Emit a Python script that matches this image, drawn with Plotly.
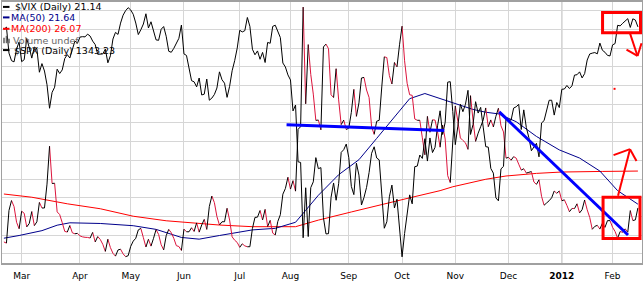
import pandas as pd
import plotly.graph_objects as go

# ---------------- data ----------------
holidays = ["2011-02-21", "2011-04-22", "2011-05-30", "2011-07-04", "2011-09-05",
            "2011-11-24", "2011-12-26", "2012-01-02", "2012-01-16"]
dates = pd.bdate_range("2011-02-17", "2012-02-15", freq="C", holidays=holidays)

vix_close = [
    16.59, 16.43, 20.80, 22.13, 21.32, 19.22, 18.35,
    20.70, 20.42, 18.60, 19.06, 20.66, 18.77, 19.28, 21.88, 21.13, 21.13, 24.32, 29.40,
    24.41, 24.44, 20.61, 20.25, 19.17, 18.00, 17.91, 18.79, 17.81, 17.68, 17.74,
    17.40, 17.27, 17.21, 17.19, 17.11, 17.87, 16.59, 17.31, 16.92, 16.27, 15.32, 16.96,
    15.83, 15.07, 14.69, 15.52, 15.62, 15.00, 14.62, 14.75,
    15.99, 16.70, 17.08, 18.20, 18.40, 17.16, 15.91, 16.95, 16.03, 17.07, 18.24, 17.60,
    16.23, 15.52, 17.43, 18.27, 17.82, 17.07, 16.09, 15.98, 15.45,
    18.30, 17.95, 17.95, 18.49, 17.99, 19.14, 17.90, 18.86, 19.61, 18.26, 21.32, 22.73,
    21.85, 19.99, 18.86, 19.29, 19.29, 21.10, 19.52, 17.27, 16.82, 16.52,
    15.87, 16.34, 16.06, 15.95, 15.95, 18.39, 19.87, 19.91, 20.80, 19.53, 20.95, 18.65,
    19.48, 17.77, 17.52, 19.32, 20.23, 22.98, 23.74, 25.25,
    23.66, 24.79, 23.38, 31.66, 32.00, 48.00, 35.06, 42.99, 39.00, 36.36, 32.85, 32.89,
    31.58, 42.67, 43.05, 42.44, 36.27, 35.90, 39.76, 35.59, 32.28, 32.89, 31.62,
    31.82, 33.92, 37.00, 33.38, 35.19, 38.52, 38.59, 36.91, 35.91, 31.97, 30.98, 32.73,
    32.86, 37.32, 41.35, 41.25, 38.84, 37.71, 40.60, 40.00, 42.96,
    45.45, 40.82, 37.81, 36.27, 36.20, 33.04, 32.86, 32.86, 30.51, 28.24, 33.39, 31.26,
    32.92, 32.89, 31.32, 29.26, 32.22, 30.35, 25.46, 24.53, 29.96,
    34.77, 32.74, 30.50, 30.16, 29.85, 28.97, 36.16, 32.81, 30.04, 31.13, 32.00, 32.91,
    34.51, 32.00, 32.91, 31.97, 33.39, 34.47, 32.13, 31.30, 27.80,
    27.90, 27.52, 28.00, 27.80, 26.99, 26.20, 26.38, 25.80, 25.90, 26.00, 24.60, 24.29,
    24.90, 22.70, 21.50, 21.80, 22.10, 22.50, 23.40, 23.10, 23.40,
    22.10, 22.22, 21.48, 20.63, 21.07, 21.05, 21.69, 20.47, 20.91, 22.20, 20.89, 19.87,
    18.28, 18.67, 18.81, 18.31, 19.10, 18.53, 19.44, 19.44,
    18.55, 17.98, 17.10, 17.98, 17.88, 18.34, 17.89, 20.79, 19.45, 19.54, 21.14,
]

spx_close = [
    1340.43, 1343.01, 1315.44, 1307.40, 1306.10, 1319.88, 1327.22,
    1306.33, 1308.44, 1330.97, 1321.15, 1310.13, 1321.82, 1320.02, 1295.11, 1304.28, 1296.39,
    1281.87, 1256.88, 1273.72, 1279.20, 1298.38, 1293.77, 1297.54, 1309.66, 1313.80, 1310.19,
    1319.44, 1328.26, 1325.83,
    1332.41, 1332.87, 1332.63, 1335.54, 1333.51, 1328.17, 1324.46, 1314.16, 1314.41, 1314.52,
    1319.68, 1305.14, 1312.62, 1330.36, 1337.38, 1335.25, 1347.24, 1355.66, 1360.48, 1363.61,
    1361.22, 1356.62, 1347.32, 1335.10, 1340.20, 1346.29, 1357.16, 1342.08, 1348.65, 1337.77,
    1329.47, 1328.98, 1340.68, 1343.60, 1333.27, 1317.37, 1316.28, 1320.47, 1325.69, 1331.10,
    1345.20,
    1314.55, 1312.94, 1300.16, 1286.17, 1284.94, 1279.56, 1289.00, 1270.98, 1271.83, 1287.87,
    1265.42, 1267.64, 1271.50, 1278.36, 1295.52, 1287.14, 1283.50, 1268.45, 1280.10, 1296.67,
    1307.41, 1320.64,
    1339.67, 1337.88, 1339.22, 1353.22, 1343.80, 1319.49, 1313.64, 1317.72, 1308.87, 1316.14,
    1305.44, 1326.73, 1325.84, 1343.80, 1345.02, 1337.43, 1331.94, 1304.89, 1300.67, 1292.28,
    1286.94, 1254.05, 1260.34, 1200.07, 1199.38, 1119.46, 1172.53, 1120.76, 1172.64, 1178.81,
    1204.49, 1192.76, 1193.89, 1140.65, 1123.53, 1123.82, 1162.35, 1177.60, 1159.27, 1176.80,
    1210.08, 1212.92, 1218.89,
    1204.42, 1173.97, 1165.24, 1198.62, 1185.90, 1154.23, 1162.27, 1172.87, 1188.68, 1209.11,
    1216.01, 1204.09, 1202.09, 1166.76, 1129.56, 1136.43, 1162.95, 1175.38, 1151.06, 1160.40,
    1131.42,
    1099.23, 1123.95, 1144.03, 1164.97, 1155.46, 1194.89, 1195.54, 1207.25, 1203.66, 1224.58,
    1200.86, 1225.38, 1209.88, 1215.39, 1238.25, 1254.19, 1229.05, 1242.00, 1284.59, 1285.09,
    1253.30,
    1218.28, 1237.90, 1261.15, 1253.23, 1261.12, 1275.92, 1229.10, 1239.70, 1263.85, 1251.78,
    1257.81, 1236.91, 1216.13, 1215.65, 1192.98, 1188.04, 1161.79, 1158.67, 1192.55, 1195.19,
    1246.96,
    1244.58, 1244.28, 1257.08, 1258.47, 1261.01, 1234.35, 1255.19, 1236.47, 1225.73, 1211.82,
    1215.75, 1219.66, 1205.35, 1241.30, 1243.72, 1254.00, 1265.33, 1265.43, 1249.64, 1263.02,
    1257.60,
    1277.06, 1277.30, 1281.06, 1277.81, 1280.70, 1292.08, 1292.48, 1295.50, 1289.09, 1293.67,
    1308.04, 1314.50, 1315.38, 1316.00, 1314.65, 1326.06, 1318.43, 1316.33, 1313.01, 1312.41,
    1324.09, 1325.54, 1344.90, 1344.33, 1347.05, 1349.96, 1351.95, 1342.64, 1351.77, 1350.50,
    1343.23,
]

# moving averages (trading-day index, value)
ma50_idx = [0, 6, 15, 21, 26, 38, 51, 60, 70, 77, 85, 98, 107, 115, 119, 124, 132, 140, 147,
            153, 160, 166, 172, 178, 185, 190, 195, 202, 210, 219, 227, 235, 242, 250]
ma50_val = [17.09, 17.45, 18.10, 18.83, 19.15, 19.06, 18.76, 18.27, 17.19, 16.96, 17.45, 18.20,
            18.41, 19.22, 20.82, 22.83, 25.58, 27.59, 30.44, 32.93, 35.75, 36.44, 35.75, 35.03,
            34.31, 33.94, 33.72, 32.67, 30.70, 28.90, 27.81, 26.07, 23.45, 21.64]
ma200_idx = [0, 11, 25, 38, 51, 64, 85, 98, 115, 124, 137, 151, 161, 172, 177, 190, 198, 210,
             220, 236, 250]
ma200_val = [23.00, 22.57, 21.69, 21.03, 20.03, 19.42, 18.85, 18.63, 18.63, 19.51, 20.60, 21.69,
             22.57, 23.45, 23.97, 24.97, 25.41, 25.76, 25.94, 26.02, 26.07]

month_labels = ["Mar", "Apr", "May", "Jun", "Jul", "Aug", "Sep", "Oct", "Nov", "Dec",
                "<b>2012</b>", "Feb"]

legend_items = [
    ("$VIX (Daily) 21.14", "#000000"),
    ("MA(50) 21.64", "#00008b"),
    ("MA(200) 26.07", "#ff0000"),
    ("Volume undef", "#666666"),
    ("$SPX (Daily) 1343.23", "#000000"),
]

# ---------------- layout geometry ----------------
FIG_W, FIG_H = 643, 281
L, R, T, B = 2, 643, 1, 267
W, H = R - L, B - T


def pxx(x):
    return (x - L) / W


def pyy(y):
    return 1 - (y - T) / H


n = len(dates)
xs = list(range(n))
month_idx = [i for i in range(1, n) if dates[i].month != dates[i - 1].month]
jan_idx = [i for i in month_idx if dates[i].month == 1][0]

fig = go.Figure()

fig.add_trace(go.Scatter(x=ma200_idx, y=ma200_val, mode="lines",
                         line=dict(color="#ff0000", width=1), hoverinfo="skip"))
fig.add_trace(go.Scatter(x=ma50_idx, y=ma50_val, mode="lines",
                         line=dict(color="#00008b", width=1), hoverinfo="skip"))

up_x, up_y, dn_x, dn_y = [], [], [], []
for i in range(n - 1):
    if vix_close[i + 1] >= vix_close[i]:
        up_x += [xs[i], xs[i + 1], None]
        up_y += [vix_close[i], vix_close[i + 1], None]
    else:
        dn_x += [xs[i], xs[i + 1], None]
        dn_y += [vix_close[i], vix_close[i + 1], None]
fig.add_trace(go.Scatter(x=dn_x, y=dn_y, mode="lines",
                         line=dict(color="#dc143c", width=1), hoverinfo="skip"))
fig.add_trace(go.Scatter(x=up_x, y=up_y, mode="lines",
                         line=dict(color="#000000", width=1), hoverinfo="skip"))
fig.add_trace(go.Scatter(x=xs, y=spx_close, mode="lines", yaxis="y2",
                         line=dict(color="#000000", width=1), hoverinfo="skip"))

shapes = []
# darker year gridline
shapes.append(dict(type="line", xref="x", yref="paper", x0=jan_idx, x1=jan_idx, y0=0, y1=1,
                   line=dict(color="#a8a8a8", width=1), layer="below"))

# legend markers
leg_y = [6, 16.7, 28.3, 40, 50]
for k, (txt, col) in enumerate(legend_items):
    y = leg_y[k]
    if k == 3:
        for bx, bt in [(4, 37.5), (6.5, 35.5), (9, 38.5)]:
            shapes.append(dict(type="rect", xref="paper", yref="paper",
                               x0=pxx(bx - 0.8), x1=pxx(bx + 0.8), y0=pyy(43), y1=pyy(bt),
                               line=dict(width=0), fillcolor=col))
    else:
        shapes.append(dict(type="line", xref="paper", yref="paper",
                           x0=pxx(3), x1=pxx(9.5), y0=pyy(y), y1=pyy(y),
                           line=dict(color=col, width=2)))


def seg(x0, y0, x1, y1, color, width):
    shapes.append(dict(type="line", xref="paper", yref="paper",
                       x0=pxx(x0), y0=pyy(y0), x1=pxx(x1), y1=pyy(y1),
                       line=dict(color=color, width=width)))


# hand drawn annotations
seg(287, 126, 445, 132, "#0000ff", 3)
seg(500, 113, 629, 238.5, "#0000ff", 3)
for (x0, y0, x1, y1) in [(603.5, 11.7, 641.5, 32.3), (604, 200, 641, 242)]:
    shapes.append(dict(type="rect", xref="paper", yref="paper",
                       x0=pxx(x0), x1=pxx(x1), y0=pyy(y0), y1=pyy(y1),
                       line=dict(color="#ff0000", width=3)))
seg(631, 33, 638.5, 56, "#ff0000", 2)
seg(627.5, 49.5, 638.5, 56, "#ff0000", 2)
seg(642.5, 43, 638.5, 56, "#ff0000", 2)
seg(619, 198.5, 631, 151, "#ff0000", 2)
seg(614.5, 157, 631, 151, "#ff0000", 2)
seg(631, 151, 637.5, 163, "#ff0000", 2)
shapes.append(dict(type="rect", xref="paper", yref="paper",
                   x0=pxx(614.5), x1=pxx(616.5), y0=pyy(90.5), y1=pyy(88.5),
                   line=dict(width=0), fillcolor="#ff0000"))

annotations = []
text_x = [13, 9.5, 9.5, 11.5, 12]
for k, (txt, col) in enumerate(legend_items):
    annotations.append(dict(text=txt, xref="paper", yref="paper", x=pxx(text_x[k]),
                            y=pyy(leg_y[k]), xanchor="left", yanchor="middle",
                            showarrow=False, font=dict(family="DejaVu Sans", size=9.5, color=col)))

# axis ranges from pixel calibration
x_lo = (L - 3.9) / 2.54
x_hi = (R - 3.9) / 2.54
v_lo = 47.5 - (B - 10) / 7.62
v_hi = 47.5 + (10 - T) / 7.62
s_lo = 1256.88 - (B - 109.3) / 0.9604
s_hi = 1256.88 + (109.3 - T) / 0.9604

fig.update_layout(
    width=FIG_W, height=FIG_H,
    margin=dict(l=L, r=FIG_W - R, t=T, b=FIG_H - B, pad=0),
    paper_bgcolor="white", plot_bgcolor="white",
    showlegend=False,
    xaxis=dict(range=[x_lo, x_hi], tickmode="array", tickvals=month_idx, ticktext=month_labels,
               showgrid=True, gridcolor="#d6d6d6", gridwidth=1, zeroline=False,
               showline=True, linecolor="#a0a0a0", linewidth=2, mirror=True,
               ticks="", ticklabelstandoff=3,
               tickfont=dict(family="DejaVu Sans", size=9, color="#000000")),
    yaxis=dict(range=[v_lo, v_hi], tickmode="linear", tick0=0, dtick=2.5,
               showgrid=True, gridcolor="#d6d6d6", gridwidth=1, zeroline=False,
               showticklabels=False, showline=True, linecolor="#a0a0a0", linewidth=1,
               mirror=True, ticks=""),
    yaxis2=dict(range=[s_lo, s_hi], overlaying="y", side="right", showgrid=False,
                showticklabels=False, zeroline=False, showline=False, ticks=""),
    shapes=shapes,
    annotations=annotations,
)

fig.write_html("out.html")
